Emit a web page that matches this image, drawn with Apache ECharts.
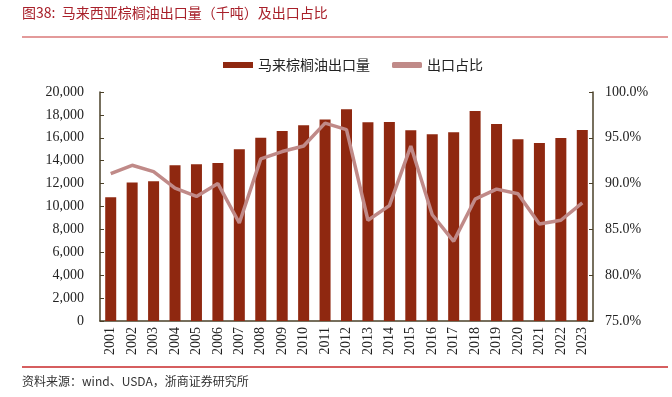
<!DOCTYPE html>
<html>
<head>
<meta charset="utf-8">
<script src="https://cdn.jsdelivr.net/npm/echarts@6/dist/echarts.min.js"></script>
<style>
  html, body { margin: 0; padding: 0; background: #fff; }
  #chart { width: 672px; height: 397px; }
</style>
</head>
<body>
<div id="chart"></div>
<script>
// 年份
const years = ['2001', '2002', '2003', '2004', '2005', '2006', '2007', '2008', '2009', '2010', '2011', '2012',
  '2013', '2014', '2015', '2016', '2017', '2018', '2019', '2020', '2021', '2022', '2023'];
// 马来棕榈油出口量（千吨）
const exportVolume = [10800, 12100, 12200, 13600, 13700, 13800, 15000, 16000, 16600, 17100, 17600, 18500,
  17350, 17380, 16650, 16300, 16480, 18340, 17200, 15870, 15550, 15980, 16680];
// 出口占比 %
const exportShare = [91.1, 92.0, 91.3, 89.5, 88.6, 90.0, 85.7, 92.7, 93.5, 94.1, 96.6, 95.9,
  86.0, 87.6, 94.1, 86.6, 83.7, 88.3, 89.4, 88.9, 85.6, 86.0, 87.9];

const serif = '"Liberation Serif", "Noto Sans CJK SC", serif';
const cjk = '"Noto Sans CJK SC", sans-serif';
const axisColor = '#4a4028';

let chart = echarts.init(document.getElementById('chart'));
chart.setOption({
  animation: false,
  graphic: [
    { type: 'text', left: 22, top: 6, style: { text: '图38:  马来西亚棕榈油出口量（千吨）及出口占比', fill: '#a8202a', font: '14px ' + cjk } },
    { type: 'line', shape: { x1: 22, y1: 37, x2: 668, y2: 37 }, style: { stroke: '#e39a9a', lineWidth: 2 } },
    { type: 'line', shape: { x1: 22, y1: 367, x2: 668, y2: 367 }, style: { stroke: '#c8282a', lineWidth: 1.5 } },
    { type: 'text', left: 22, top: 375, style: { text: '资料来源：wind、USDA，浙商证券研究所', fill: '#333', font: '12px ' + cjk } }
  ],
  legend: {
    top: 53,
    left: 218,
    itemGap: 22,
    itemWidth: 30,
    itemHeight: 6,
    textStyle: { fontFamily: cjk, fontSize: 14, color: '#222' },
    data: [
      { name: '马来棕榈油出口量', icon: 'rect' },
      { name: '出口占比', icon: 'roundRect', itemStyle: { color: '#c08a88' } }
    ]
  },
  grid: { left: 100, right: 79, top: 92, bottom: 76 },
  xAxis: {
    type: 'category',
    data: years,
    axisLine: { lineStyle: { color: axisColor, width: 1.5 } },
    axisTick: { inside: true, length: 4, lineStyle: { color: axisColor } },
    axisLabel: { rotate: 90, color: '#222', fontFamily: serif, fontSize: 14, margin: 6 }
  },
  yAxis: [
    {
      type: 'value', min: 0, max: 20000, interval: 2000,
      splitLine: { show: false },
      axisLine: { show: true, lineStyle: { color: axisColor, width: 1.5 } },
      axisTick: { show: true, inside: true, length: 4, lineStyle: { color: axisColor } },
      axisLabel: {
        color: '#222', fontFamily: serif, fontSize: 14, margin: 16,
        formatter: v => v.toLocaleString('en-US')
      }
    },
    {
      type: 'value', min: 75, max: 100, interval: 5, position: 'right',
      splitLine: { show: false },
      axisLine: { show: true, lineStyle: { color: axisColor, width: 1.5 } },
      axisTick: { show: true, inside: true, length: 4, lineStyle: { color: axisColor } },
      axisLabel: {
        color: '#222', fontFamily: serif, fontSize: 14, margin: 12,
        formatter: v => v.toFixed(1) + '%'
      }
    }
  ],
  series: [
    {
      name: '马来棕榈油出口量',
      type: 'bar',
      data: exportVolume,
      barWidth: 11,
      itemStyle: { color: '#8f2810' }
    },
    {
      name: '出口占比',
      type: 'line',
      yAxisIndex: 1,
      data: exportShare,
      symbol: 'none',
      lineStyle: { color: '#c08a88', width: 3.5 },
      itemStyle: { color: '#c08a88' }
    }
  ]
});
</script>
</body>
</html>
